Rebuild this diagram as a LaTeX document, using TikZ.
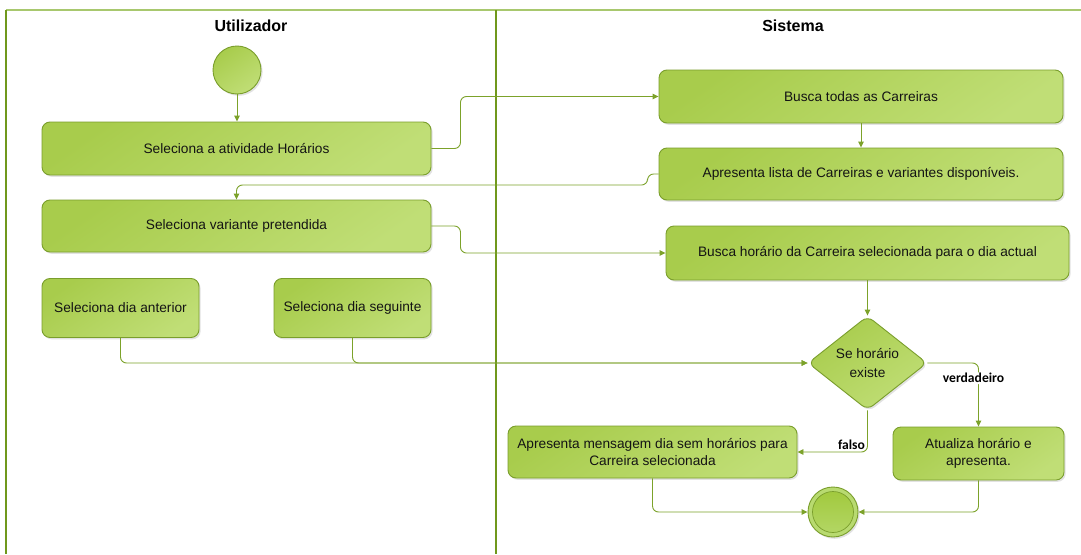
\documentclass[tikz,border=0pt]{standalone}
\usepackage{fontspec}
\setmainfont{Liberation Sans}
\newfontfamily\guardfont{Carlito}
\usetikzlibrary{shapes.geometric,arrows.meta,shadows}

\definecolor{laneline}{RGB}{112,152,28}
\definecolor{lanetop}{RGB}{168,200,110}
\definecolor{flow}{RGB}{124,162,42}
\definecolor{boxedge}{RGB}{122,158,44}
\definecolor{fillA}{RGB}{168,204,76}
\definecolor{fillB}{RGB}{192,222,118}
\definecolor{ringfill}{RGB}{184,218,112}
\definecolor{corefill}{RGB}{160,200,58}

\tikzset{
  x=1pt, y=-1pt,
  softshadow/.style={drop shadow={shadow xshift=1.6pt, shadow yshift=-1.8pt, fill=black!45, opacity=0.25}},
  act/.style={draw=boxedge, line width=0.9pt, rounded corners=8pt,
    top color=fillA, bottom color=fillB, shading angle=35, softshadow,
    font=\fontsize{13.7}{17}\selectfont, align=center, inner sep=0pt, text=black!92},
  decision/.style={act, diamond, rounded corners=7pt, aspect=1.25},
  startnode/.style={circle, draw=boxedge, line width=0.9pt, top color=fillA, bottom color=fillB,
    shading angle=35, softshadow, minimum size=48pt, inner sep=0pt},
  endnode/.style={circle, draw=boxedge, line width=0.9pt, fill=ringfill, softshadow,
    minimum size=50pt, inner sep=0pt,
    path picture={\draw[draw=boxedge, line width=0.7pt, top color=corefill, bottom color=ringfill!85!corefill]
      (path picture bounding box.center) circle (20.5pt);}},
  flowline/.style={draw=flow, line width=0.9pt, rounded corners=6pt,
    -{Triangle[length=6pt,width=5.5pt]}},
  guard/.style={font=\guardfont\bfseries\fontsize{13.6}{15}\selectfont, fill=white, inner sep=1pt, text=black},
  lanetitle/.style={font=\fontsize{16}{19}\selectfont\bfseries, text=black}
}

\begin{document}
\begin{tikzpicture}
\useasboundingbox (0,0) rectangle (1081,554);
\fill[white] (0,0) rectangle (1081,554);

% swimlane frame
\draw[lanetop, line width=1.5pt] (6,10) -- (1081,10);
\draw[laneline, line width=1.3pt] (6,10) -- (6,554);
\draw[laneline, line width=1.3pt] (496,10) -- (496,554);
\node[lanetitle] (utitle) at (251,26) {Utilizador};
\node[lanetitle] (stitle) at (793,26) {Sistema};

% activities
\node[startnode] (start) at (237,70) {};
\node[act, minimum width=389pt, minimum height=53pt] (A) at (236.5,148.5) {Seleciona a atividade Horários};
\node[act, minimum width=404pt, minimum height=53pt] (B) at (861,96.5) {Busca todas as Carreiras};
\node[act, minimum width=404pt, minimum height=52pt] (C) at (861,174) {Apresenta lista de Carreiras e variantes disponíveis.};
\node[act, minimum width=389pt, minimum height=52pt] (D) at (236.5,226) {Seleciona variante pretendida};
\node[act, minimum width=403pt, minimum height=54pt] (E) at (867.5,253) {Busca horário da Carreira selecionada para o dia actual};
\node[act, minimum width=157pt, minimum height=59pt] (F) at (120.5,308) {Seleciona dia anterior};
\node[act, minimum width=157pt, minimum height=59pt] (G) at (352.5,308) {Seleciona dia seguinte};
\node[decision, minimum width=119pt, minimum height=94pt, font=\fontsize{13.7}{18.5}\selectfont] (dec) at (867.5,363) {Se horário\\existe};
\node[act, minimum width=289pt, minimum height=52pt] (I) at (652.5,452) {Apresenta mensagem dia sem horários para\\Carreira selecionada};
\node[act, minimum width=171pt, minimum height=53pt] (H) at (978.5,453.5) {Atualiza horário e\\apresenta.};
\node[endnode] (end) at (833,512) {};

% control flow
\draw[flowline] (start.south) -- (start.south |- A.north);
\draw[flowline] (A.east) -- ++(29,0) |- (B.west);
\draw[flowline] (B.south) -- (B.south |- C.north);
\draw[flowline] (C.west) -- ++(-11,0) -- ++(0,11) -| (D.north);
\draw[flowline] (D.east) -- ++(29,0) |- (E.west);
\draw[flowline] (F.south) |- (dec.west);
\draw[flowline] (G.south) |- (dec.west);
\draw[flowline] (E.south) -- (dec.north);
\draw[flowline] (dec.east) -| node[guard, pos=0.62, xshift=-5pt] {verdadeiro} (H.north);
\draw[flowline] (dec.south) |- node[guard, pos=0.5, xshift=-16pt, yshift=7pt] {falso} (I.east);
\draw[flowline] (I.south) |- (end.west);
\draw[flowline] (H.south) |- (end.east);
\end{tikzpicture}
\end{document}
